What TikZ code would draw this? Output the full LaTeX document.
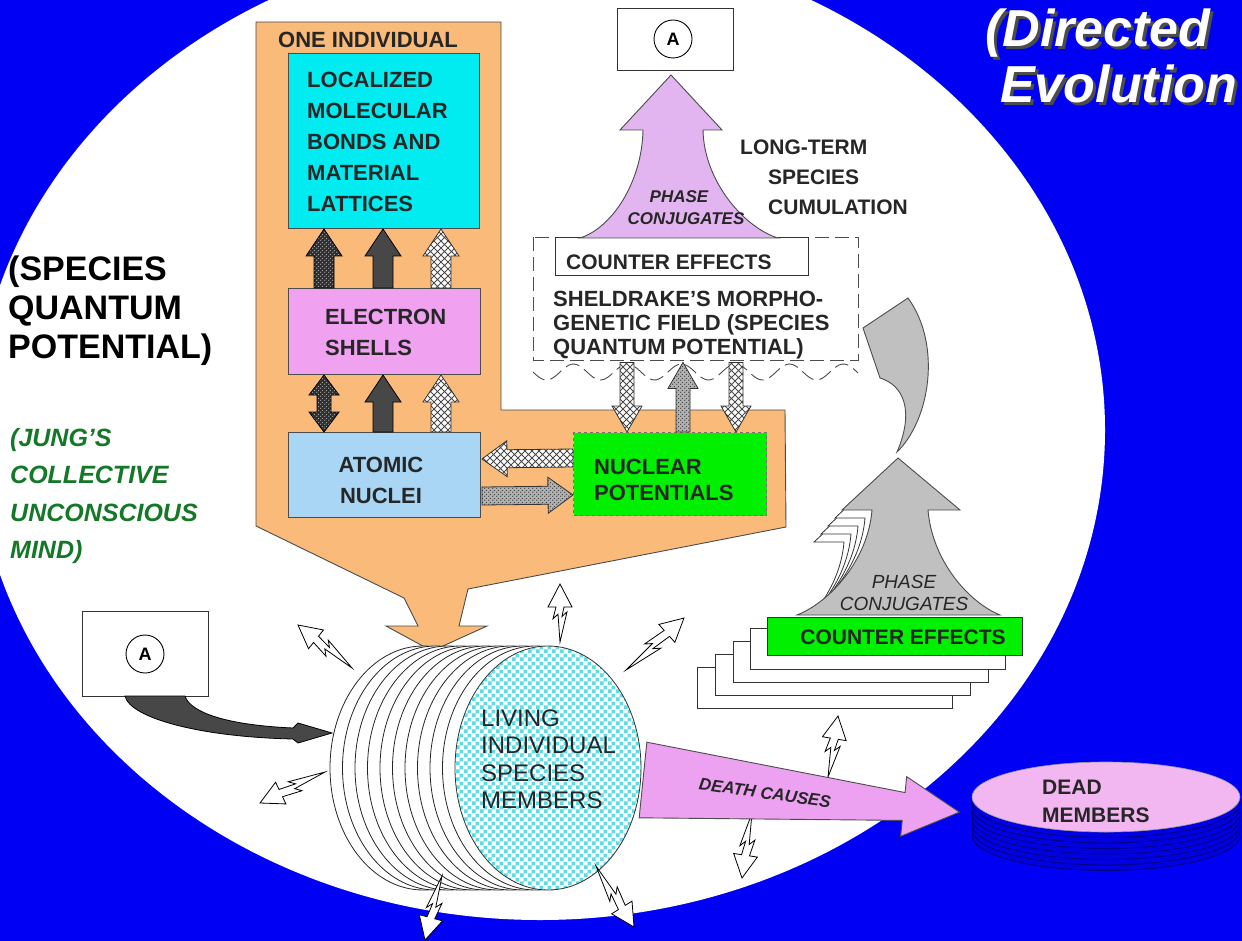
\documentclass[tikz,border=0pt]{standalone}
\usepackage{fontspec}
\setmainfont{Liberation Sans}
\usetikzlibrary{patterns,calc,shapes.geometric}
\definecolor{bgblue}{RGB}{0,0,245}
\definecolor{orangef}{RGB}{249,186,122}
\definecolor{cyanc}{RGB}{0,236,240}
\definecolor{pinkc}{RGB}{240,162,240}
\definecolor{lblue}{RGB}{168,214,244}
\definecolor{greenc}{RGB}{0,240,0}
\definecolor{lav}{RGB}{226,180,240}
\definecolor{grayf}{RGB}{192,192,192}
\definecolor{deathc}{RGB}{236,162,240}
\definecolor{deadpink}{RGB}{242,182,240}
\definecolor{jungc}{RGB}{20,120,40}
\definecolor{checkc}{RGB}{90,220,225}
\definecolor{diskf}{RGB}{0,0,225}
\definecolor{diskl}{RGB}{0,0,130}
\pgfdeclarepatternformonly{xhatch}{\pgfqpoint{-1pt}{-1pt}}{\pgfqpoint{8pt}{8pt}}{\pgfqpoint{7pt}{7pt}}{%
  \pgfsetlinewidth{0.9pt}%
  \pgfpathmoveto{\pgfqpoint{0pt}{0pt}}\pgfpathlineto{\pgfqpoint{7pt}{7pt}}%
  \pgfpathmoveto{\pgfqpoint{0pt}{7pt}}\pgfpathlineto{\pgfqpoint{7pt}{0pt}}%
  \pgfusepath{stroke}}
\pgfdeclarepatternformonly{bigcheck}{\pgfqpoint{0pt}{0pt}}{\pgfqpoint{8pt}{8pt}}{\pgfqpoint{8pt}{8pt}}{%
  \pgfpathrectangle{\pgfqpoint{0pt}{0pt}}{\pgfqpoint{4pt}{4pt}}%
  \pgfpathrectangle{\pgfqpoint{4pt}{4pt}}{\pgfqpoint{4pt}{4pt}}%
  \pgfusepath{fill}}
\pgfdeclarepatternformonly{fdots}{\pgfqpoint{0pt}{0pt}}{\pgfqpoint{4pt}{4pt}}{\pgfqpoint{4pt}{4pt}}{%
  \pgfpathcircle{\pgfqpoint{1pt}{1pt}}{0.8pt}%
  \pgfpathcircle{\pgfqpoint{3pt}{3pt}}{0.8pt}%
  \pgfusepath{fill}}
\makeatletter
\newcommand\ba@setup[2]{%
  \path #1 coordinate (ba@s);
  \path #2 coordinate (ba@e);
  \pgfpointdiff{\pgfpointanchor{ba@s}{center}}{\pgfpointanchor{ba@e}{center}}%
  \edef\ba@dx{\strip@pt\pgf@x}\edef\ba@dy{\strip@pt\pgf@y}%
  \pgfmathsetmacro\ba@len{veclen(\ba@dx,\ba@dy)}%
  \pgfmathsetmacro\ba@ang{atan2(\ba@dy,\ba@dx)}%
}
% style, from, to, half shaft, half head, head length
\newcommand\blockarrow[6]{%
  \ba@setup{#2}{#3}%
  \pgfmathsetmacro\ba@hx{\ba@len-#6}%
  \path[#1, shift={(ba@s)}, rotate=\ba@ang] (0pt,-#4pt) -- (\ba@hx pt,-#4pt) -- (\ba@hx pt,-#5pt) -- (\ba@len pt,0pt) -- (\ba@hx pt,#5pt) -- (\ba@hx pt,#4pt) -- (0pt,#4pt) -- cycle;}
\newcommand\dblarrow[6]{%
  \ba@setup{#2}{#3}%
  \pgfmathsetmacro\ba@hx{\ba@len-#6}%
  \path[#1, shift={(ba@s)}, rotate=\ba@ang] (0pt,0pt) -- (#6pt,-#5pt) -- (#6pt,-#4pt) -- (\ba@hx pt,-#4pt) -- (\ba@hx pt,-#5pt) -- (\ba@len pt,0pt) -- (\ba@hx pt,#5pt) -- (\ba@hx pt,#4pt) -- (#6pt,#4pt) -- (#6pt,#5pt) -- cycle;}
% hollow lightning arrow: from, to
\newcommand\zigarrow[2]{%
  \ba@setup{#1}{#2}%
  \pgfmathsetmacro\ba@hx{\ba@len-23}%
  \pgfmathsetmacro\ba@a{0.40*\ba@len}\pgfmathsetmacro\ba@b{0.44*\ba@len}%
  \pgfmathsetmacro\ba@c{0.48*\ba@len}\pgfmathsetmacro\ba@d{0.52*\ba@len}%
  \path[hollow, shift={(ba@s)}, rotate=\ba@ang] (0pt,0pt) -- (\ba@d pt,-7pt) -- (\ba@b pt,-2pt) -- (\ba@hx pt,-4pt) -- (\ba@hx pt,-12pt) -- (\ba@len pt,0pt) -- (\ba@hx pt,12pt) -- (\ba@hx pt,4pt) -- (\ba@a pt,7pt) -- (\ba@c pt,2pt) -- cycle;}
\makeatother
\newcommand\shadowtext[1]{\rlap{\hspace{3pt}\raisebox{-3pt}{\textcolor{black!70}{#1}}}\textcolor{white}{#1}}
\tikzset{
  boxtxt/.style={font=\bfseries\fontsize{22}{31}\selectfont, align=left, inner sep=0pt, text=black!85},
  rbox/.style={draw=black!70, line width=1pt, inner sep=0pt, anchor=north west},
  wbox/.style={draw=black!80, line width=.9pt, fill=white, inner sep=0pt, anchor=north west, minimum width=255, minimum height=41},
  xh/.style={draw=black!80, line width=.8pt, preaction={fill=white}, pattern=xhatch, pattern color=black!70},
  dk/.style={draw=black, line width=.8pt, fill=black!72},
  dd/.style={draw=black, line width=.8pt, preaction={fill=black!82}, pattern=fdots, pattern color=black!35},
  gd/.style={draw=black!80, line width=.8pt, preaction={fill=black!30}, pattern=fdots, pattern color=black!75},
  hollow/.style={draw=black, line width=.8pt, fill=white},
  circA/.style={circle, draw=black, line width=.9pt, minimum size=38, inner sep=0pt, font=\bfseries\fontsize{18}{18}\selectfont},
  titletxt/.style={anchor=base west, font=\bfseries\itshape\fontsize{52}{56}\selectfont, inner sep=0pt},
}
\begin{document}
\begin{tikzpicture}[x=1pt,y=-1pt]
\useasboundingbox (0,0) rectangle (1242,941);
\clip (0,0) rectangle (1242,941);
\fill[bgblue] (0,0) rectangle (1242,941);
% white ellipse
\fill[white] (540,430) ellipse [x radius=565, y radius=490];
% title
\node[titletxt] (t1) at (985,47) {\shadowtext{(Directed}};
\node[titletxt] (t2) at (1000,103) {\shadowtext{Evolution}};
% left texts
\node[anchor=west, font=\bfseries\fontsize{34}{39}\selectfont, align=left, inner sep=0pt] (sqp) at (8,311) {(SPECIES\\QUANTUM\\POTENTIAL)};
\node[anchor=west, font=\bfseries\itshape\fontsize{25}{37.5}\selectfont, align=left, inner sep=0pt, text=jungc] (jung) at (10,496) {(JUNG'S\\COLLECTIVE\\UNCONSCIOUS\\MIND)};
% orange region
\filldraw[fill=orangef, draw=black!70, line width=.9pt] (256,22) -- (501,22) -- (501,410) -- (785,410) -- (786,527) -- (468,589) -- (459,626) -- (487,626) -- (432,651) -- (386,626) -- (418,626) -- (404,598) -- (256,526) -- cycle;
\node[boxtxt, anchor=west] (oneind) at (278,40) {ONE INDIVIDUAL};
% boxes
\node[rbox, fill=cyanc, minimum width=191, minimum height=175] (mol) at (288,53) {};
\node[boxtxt, anchor=west] (molt) at (307,142) {LOCALIZED\\MOLECULAR\\BONDS AND\\MATERIAL\\LATTICES};
\node[rbox, fill=pinkc, minimum width=192, minimum height=86] (es) at (288,288) {};
\node[boxtxt, anchor=west] (est) at (325,332) {ELECTRON\\SHELLS};
\node[rbox, fill=lblue, minimum width=192, minimum height=85] (an) at (288,432) {};
\node[boxtxt, align=center] (ant) at (381,480) {ATOMIC\\NUCLEI};
\node[rbox, fill=greenc, draw=black!55, dashed, minimum width=193, minimum height=83] (np) at (573,432) {};
\node[boxtxt, anchor=west, font=\bfseries\fontsize{22}{26}\selectfont] (npt) at (594,480) {NUCLEAR\\POTENTIALS};
% arrows inside the individual
\blockarrow{dd}{($(es.north west)+(36,0)$)}{($(mol.south west)+(36,0)$)}{10}{18}{27}
\blockarrow{dk}{($(es.north west)+(95,0)$)}{($(mol.south west)+(95,0)$)}{10}{18}{27}
\blockarrow{xh}{($(es.north west)+(153,0)$)}{($(mol.south west)+(153,0)$)}{10}{18}{27}
\dblarrow{dd}{($(an.north west)+(36,0)$)}{($(es.south west)+(36,0)$)}{7}{15}{20}
\blockarrow{dk}{($(an.north west)+(95,0)$)}{($(es.south west)+(95,0)$)}{10}{18}{27}
\blockarrow{xh}{($(an.north west)+(153,0)$)}{($(es.south west)+(153,0)$)}{10}{18}{27}
\blockarrow{xh}{($(np.west)+(0,-16)$)}{($(an.east)+(1,-16)$)}{9}{18}{25}
\blockarrow{gd}{($(an.east)+(1,21)$)}{($(np.west)+(0,21)$)}{9}{18}{25}
% morphogenetic field box
\draw[black!70, line width=.9pt, dash pattern=on 14pt off 6pt, fill=white] (533,237) rectangle (858,360);
\node[anchor=north west, minimum width=325, minimum height=123, inner sep=0pt] (field) at (533,237) {};
\draw[black!70, line width=.9pt, dash pattern=on 14pt off 6pt] plot[domain=533:858, samples=120] (\x, {372+8*sin((\x-533)/54*360)});
\node[rbox, fill=white, draw=black!80, minimum width=253, minimum height=38] (ce1) at (555,237) {};
\node[boxtxt, anchor=west, font=\bfseries\fontsize{21}{21}\selectfont] (ce1t) at (566,262) {COUNTER EFFECTS};
\node[boxtxt, anchor=west, font=\bfseries\fontsize{22}{24}\selectfont] (fieldt) at (553,325) {SHELDRAKE'S MORPHO-\\GENETIC FIELD (SPECIES\\QUANTUM POTENTIAL)};
\blockarrow{xh}{($(field.south west)+(94,2)$)}{($(np.north west)+(54,0)$)}{7}{15}{26}
\blockarrow{gd}{($(np.north west)+(110,0)$)}{($(field.south west)+(150,2)$)}{7}{15}{26}
\blockarrow{xh}{($(field.south west)+(203,2)$)}{($(np.north west)+(163,0)$)}{7}{15}{26}
% top A box and lavender arrow
\node[rbox, fill=white, draw=black!80, minimum width=116, minimum height=62] (boxA) at (617,8) {};
\node[circA] (cA) at (673,39) {A};
\filldraw[fill=lav, draw=black!70, line width=.9pt] (671,75) -- (722,130) -- (703,130) .. controls (704,182) and (745,228) .. (778,238) -- (580,238) .. controls (612,228) and (642,182) .. (643,130) -- (620,130) -- cycle;
\node[font=\bfseries\itshape\fontsize{17}{22}\selectfont, align=center, inner sep=0pt, text=black!85] (pc1) at (679,208) {PHASE\\\hspace*{14pt}CONJUGATES};
\node[anchor=west, font=\bfseries\fontsize{21}{30}\selectfont, align=left, inner sep=0pt, text=black!85] (ltc) at (740,177) {LONG-TERM\\\hspace*{28pt}SPECIES\\\hspace*{28pt}CUMULATION};
% stack of counter effects
\node[wbox] (st4) at (697,667) {};
\node[wbox] (st3) at (715,654) {};
\node[wbox] (st2) at (733,641) {};
\node[wbox] (st1) at (750,628) {};
\begin{scope}
\clip (780,500) rectangle (873,600);
\foreach \k in {4,3,2,1}{
\filldraw[fill=white, draw=black!80, line width=.8pt, shift={(-7*\k,8*\k)}] (898,458) -- (960,510) -- (928,510) .. controls (932,560) and (968,602) .. (1000,615) -- (797,615) .. controls (830,602) and (868,560) .. (872,510) -- (842,510) -- cycle;}
\end{scope}
\filldraw[fill=grayf, draw=black!70, line width=.9pt] (898,458) -- (960,510) -- (928,510) .. controls (932,560) and (968,602) .. (1000,615) -- (797,615) .. controls (830,602) and (868,560) .. (872,510) -- (842,510) -- cycle;
\node[font=\itshape\fontsize{19}{22}\selectfont, align=center, inner sep=0pt, text=black!85] (pc2) at (904,593) {PHASE\\CONJUGATES};
\node[rbox, fill=greenc, draw=black!80, minimum width=255, minimum height=38] (ce2) at (767,617) {};
\node[boxtxt, font=\bfseries\fontsize{21}{21}\selectfont] (ce2t) at (903,637) {COUNTER EFFECTS};
% curved gray arrow
\filldraw[fill=grayf, draw=black!70, line width=.9pt] (897,452) .. controls (930,420) and (942,345) .. (908,298) -- (863,328) -- (880,378) .. controls (903,385) and (915,410) .. (897,452) -- cycle;
% cylinder of living members
\foreach \k in {10,...,1}{
\filldraw[fill=white, draw=black!85, line width=.8pt] ({548-12.5*\k},768) ellipse [x radius=93, y radius=122];}
\node[ellipse, draw=black!80, line width=.8pt, preaction={fill=white}, pattern=bigcheck, pattern color=checkc, minimum width=186, minimum height=244, inner sep=0pt] (cyl) at (548,768) {};
\node[anchor=west, font=\fontsize{24}{27.5}\selectfont, align=left, inner sep=0pt, text=black!85] (cylt) at (481,759) {LIVING\\INDIVIDUAL\\SPECIES\\MEMBERS};
% left A box and dark arrow
\node[rbox, fill=white, draw=black!80, minimum width=126, minimum height=85] (boxA2) at (82,611) {};
\node[circA] (cA2) at (145,654) {A};
\filldraw[fill=black!72, draw=black, line width=.8pt] (125,696) -- (185,696) .. controls (190,712) and (225,725) .. (293,728) -- (298,723) -- (332,733) -- (298,743) -- (293,739) .. controls (200,737) and (130,718) .. (125,696) -- cycle;
% small hollow arrows
\zigarrow{(560,642)}{(560,584)}
\zigarrow{(626,670)}{(684,618)}
\zigarrow{(352,668)}{(298,625)}
\zigarrow{(325,772)}{(260,803)}
\zigarrow{(442,876)}{(425,940)}
\zigarrow{(596,866)}{(634,927)}
\zigarrow{(752,813)}{(742,878)}
\zigarrow{(828,777)}{(838,716)}
% death causes arrow
\filldraw[fill=deathc, draw=black!70, line width=.9pt, shift={(643,780)}, rotate=-5.8] (0pt,38pt) -- (262pt,14pt) -- (262pt,30pt) -- (318pt,0pt) -- (262pt,-30pt) -- (262pt,-14pt) -- (0pt,-38pt) -- cycle;
\node[font=\bfseries\itshape\fontsize{17}{17}\selectfont, rotate=-8, inner sep=0pt, text=black!85] (dct) at (765,793) {DEATH CAUSES};
% dead members
\foreach \k in {7,...,1}{
\filldraw[fill=diskf, draw=diskl, line width=.9pt] (1106,{797+5.5*\k}) ellipse [x radius=134, y radius=35];}
\node[ellipse, fill=deadpink, draw=black!40, line width=.6pt, minimum width=268, minimum height=70, inner sep=0pt] (dead) at (1106,797) {};
\node[anchor=west, font=\bfseries\fontsize{21}{28}\selectfont, align=left, inner sep=0pt, text=black!85] (deadt) at (1042,801) {DEAD\\MEMBERS};
\end{tikzpicture}
\end{document}
